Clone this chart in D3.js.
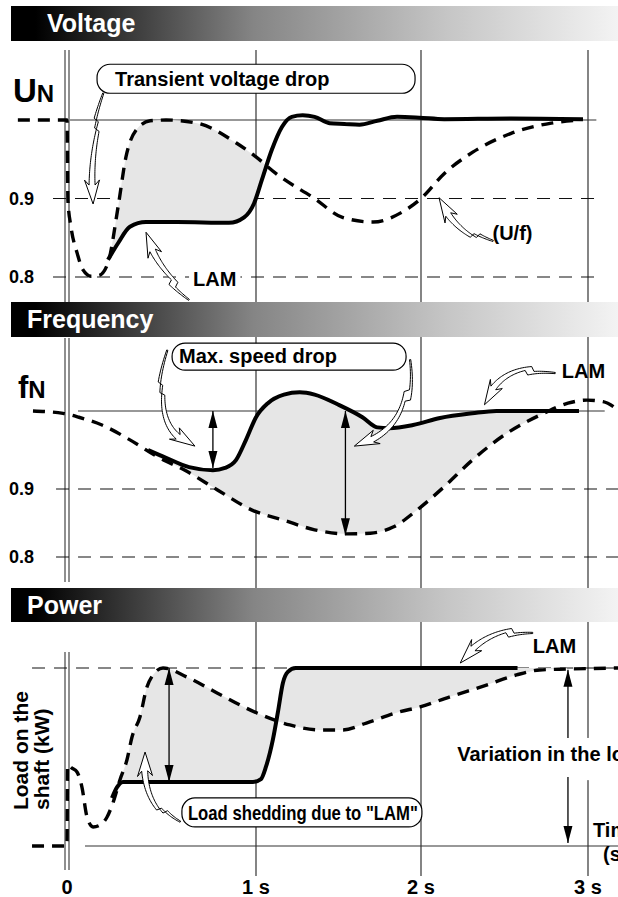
<!DOCTYPE html>
<html>
<head>
<meta charset="utf-8">
<script src="https://cdn.jsdelivr.net/npm/d3@7"></script>
<style>
  body { margin: 0; background: #fff; }
  svg { display: block; font-family: "Liberation Sans", Arial, sans-serif; font-weight: bold; }
</style>
</head>
<body>
<svg id="chart" width="618" height="897"></svg>
<script>
// ---- data ----
const timeTicks = [0, 1, 2, 3];
const timeLabels = ["0", "1 s", "2 s", "3 s"];

// Voltage (p.u.) - dashed: U/f regulation, solid: LAM
const voltUfT = [-0.26, 0, 0.005, 0.021, 0.053, 0.085, 0.127, 0.169, 0.217, 0.27, 0.312, 0.365, 0.44, 0.524, 0.688, 0.894, 1.0, 1.12, 1.355, 1.524, 1.71, 1.88, 2.0, 2.14, 2.31, 2.54, 2.78, 2.95];
const voltUfV = [1.0, 1.0, 0.897, 0.864, 0.831, 0.809, 0.801, 0.802, 0.818, 0.889, 0.953, 0.987, 0.999, 1.0, 0.996, 0.971, 0.953, 0.932, 0.90, 0.876, 0.870, 0.882, 0.90, 0.932, 0.959, 0.983, 0.996, 1.0];
const voltLamT = [0.217, 0.27, 0.333, 0.418, 0.582, 0.857, 0.937, 0.99, 1.036, 1.096, 1.157, 1.217, 1.283, 1.355, 1.446, 1.536, 1.627, 1.735, 1.855, 1.988, 2.139, 2.542, 2.97];
const voltLamV = [0.822, 0.843, 0.864, 0.870, 0.870, 0.869, 0.876, 0.894, 0.924, 0.962, 0.991, 1.004, 1.006, 1.004, 0.996, 0.995, 0.994, 0.999, 1.004, 1.003, 1.001, 1.002, 1.001];
const voltTicks = [0.9, 0.8];

// Frequency (p.u.)
const freqUfT = [-0.18, -0.021, 0.063, 0.185, 0.333, 0.481, 0.624, 0.794, 0.979, 1.169, 1.355, 1.548, 1.693, 1.831, 1.976, 2.139, 2.307, 2.518, 2.735, 2.88, 2.994, 3.09, 3.181];
const freqUfV = [1.0, 0.997, 0.992, 0.982, 0.963, 0.941, 0.924, 0.899, 0.869, 0.854, 0.840, 0.834, 0.835, 0.844, 0.869, 0.903, 0.937, 0.972, 0.997, 1.010, 1.014, 1.012, 1.001];
const freqLamT = [0.429, 0.524, 0.646, 0.772, 0.836, 0.894, 0.947, 1.0, 1.072, 1.169, 1.265, 1.355, 1.5, 1.645, 1.735, 1.807, 1.952, 2.114, 2.307, 2.452, 2.946];
const freqLamV = [0.950, 0.940, 0.928, 0.924, 0.927, 0.937, 0.963, 0.992, 1.010, 1.021, 1.024, 1.021, 1.008, 0.992, 0.979, 0.978, 0.982, 0.991, 0.997, 1.0, 1.0];
const freqTicks = [0.9, 0.8];

// Load on the shaft (share of final load)
const powUfT = [-0.185, 0, 0.003, 0.026, 0.053, 0.079, 0.106, 0.138, 0.175, 0.212, 0.243, 0.28, 0.317, 0.344, 0.386, 0.423, 0.455, 0.508, 0.635, 0.794, 1.006, 1.205, 1.386, 1.524, 1.669, 1.867, 1.994, 2.169, 2.392, 2.572, 2.711, 2.873, 3.181];
const powUfP = [0, 0, 0.455, 0.438, 0.416, 0.331, 0.163, 0.107, 0.118, 0.163, 0.242, 0.371, 0.483, 0.612, 0.725, 0.893, 0.961, 1.0, 0.949, 0.860, 0.747, 0.680, 0.652, 0.652, 0.691, 0.753, 0.781, 0.837, 0.904, 0.961, 0.989, 0.994, 1.0];
const powLamT = [0.238, 0.265, 0.296, 0.36, 0.984, 1.03, 1.06, 1.102, 1.133, 1.163, 1.193, 1.241, 2.578, 2.873];
const powLamP = [0.27, 0.331, 0.36, 0.36, 0.36, 0.376, 0.444, 0.596, 0.753, 0.916, 0.978, 1.0, 1.0, 1.0];
const powLamDrawnUntil = 2.578;

const zip = (ts, vs) => ts.map((t, i) => ({t: t, v: vs[i]}));
const voltUf = zip(voltUfT, voltUfV), voltLam = zip(voltLamT, voltLamV);
const freqUf = zip(freqUfT, freqUfV), freqLam = zip(freqLamT, freqLamV);
const powUf = zip(powUfT, powUfP), powLam = zip(powLamT, powLamP);

// ---- scales ----
const svg = d3.select("#chart");
const defs = svg.append("defs");

const x = d3.scaleLinear().domain(timeTicks).range([67, 256, 421, 588]);
const yV = d3.scaleLinear().domain([0.8, 1.0]).range([277, 120]);
const yF = d3.scaleLinear().domain([0.8, 0.9, 1.0]).range([557, 489, 411]);
const yP = d3.scaleLinear().domain([0, 1]).range([846, 668]);

const curve = d3.curveMonotoneX;
const lineOf = y => d3.line().x(d => x(d.t)).y(d => y(d.v)).curve(curve);

const grad = defs.append("linearGradient").attr("id", "band");
grad.append("stop").attr("offset", "0%").attr("stop-color", "#000");
grad.append("stop").attr("offset", "4%").attr("stop-color", "#000");
grad.append("stop").attr("offset", "40%").attr("stop-color", "#858585");
grad.append("stop").attr("offset", "72%").attr("stop-color", "#c6c6c6");
grad.append("stop").attr("offset", "100%").attr("stop-color", "#f3f3f3");

const gridColor = "#333";

// vertical grid lines (1 s, 2 s, 3 s)
svg.append("g").selectAll("line").data(timeTicks.slice(1)).join("line")
    .attr("x1", d => x(d)).attr("x2", d => x(d))
    .attr("y1", 50).attr("y2", 876)
    .attr("stroke", gridColor).attr("stroke-width", 1.2);

// double line at t = 0, one per panel
[[50, 302], [338, 582], [652, 870]].forEach(([a, b]) => {
    [-2, 2].forEach(o => svg.append("line")
        .attr("x1", x(0) + o).attr("x2", x(0) + o).attr("y1", a).attr("y2", b)
        .attr("stroke", gridColor).attr("stroke-width", 1.1));
});

// header bands
const bands = [
    {title: "Voltage", y: 6, h: 35, tx: 47},
    {title: "Frequency", y: 302, h: 35, tx: 27},
    {title: "Power", y: 588, h: 34, tx: 27}
];
bands.forEach(b => {
    svg.append("rect").attr("x", 11).attr("y", b.y).attr("width", 607).attr("height", b.h)
        .attr("fill", "url(#band)");
    svg.append("text").attr("x", b.tx).attr("y", b.y + 26).attr("fill", "#fff")
        .attr("font-size", 25).text(b.title);
});

// horizontal reference lines
function hline(y, v, t0, t1, dashed) {
    svg.append("line").attr("x1", x(t0)).attr("x2", x(t1)).attr("y1", y(v)).attr("y2", y(v))
        .attr("stroke", dashed ? "#111" : gridColor).attr("stroke-width", 1.1)
        .attr("stroke-dasharray", dashed ? "13,9" : null);
}
hline(yV, 1.0, 0.016, 3.05, false);
voltTicks.forEach(v => hline(yV, v, -0.074, 3.07, true));
hline(yF, 1.0, 0.058, 3.1, false);
freqTicks.forEach(v => hline(yF, v, -0.058, 3.19, true));
hline(yP, 1.0, -0.185, 3.19, true);
hline(yP, 0, 0.095, 3.19, false);

// shaded gap between two curves (upper above lower)
let clipN = 0;
function shade(upper, lower, y, top, bottom) {
    const id = "clip" + (clipN++);
    defs.append("clipPath").attr("id", id).append("path")
        .attr("d", d3.area().x(d => x(d.t)).y0(top).y1(d => y(d.v)).curve(curve)(lower));
    svg.append("path")
        .attr("d", d3.area().x(d => x(d.t)).y0(d => y(d.v)).y1(bottom).curve(curve)(upper))
        .attr("fill", "#e6e6e6").attr("clip-path", `url(#${id})`);
}
shade(voltUf, voltLam, yV, 45, 300);
shade(freqLam, freqUf, yF, 338, 586);
shade(powUf, powLam, yP, 625, 846);
shade(powLam, powUf, yP, 625, 846);

// curves
function dashedCurve(data, y) {
    svg.append("path").datum(data).attr("d", lineOf(y))
        .attr("fill", "none").attr("stroke", "#000").attr("stroke-width", 3.4)
        .attr("stroke-dasharray", "12,8");
}
function solidCurve(data, y) {
    svg.append("path").datum(data).attr("d", lineOf(y))
        .attr("fill", "none").attr("stroke", "#000").attr("stroke-width", 4)
        .attr("stroke-linejoin", "round");
}
dashedCurve(voltUf, yV);
solidCurve(voltLam, yV);
dashedCurve(freqUf, yF);
solidCurve(freqLam, yF);
dashedCurve(powUf, yP);
solidCurve(powLam.filter(d => d.t <= powLamDrawnUntil), yP);

// straight arrows
function head(px, py, dir) {
    const L = 17, w = 4.5;
    svg.append("path")
        .attr("d", `M${px},${py}L${px - w},${py - dir * L}L${px + w},${py - dir * L}Z`)
        .attr("fill", "#000");
}
function arrow(t, y, vFrom, vTo, both) {
    const X = x(t), a = y(vFrom), b = y(vTo);
    svg.append("line").attr("x1", X).attr("x2", X).attr("y1", a).attr("y2", b)
        .attr("stroke", "#000").attr("stroke-width", 1.3);
    head(X, b, b > a ? 1 : -1);
    if (both) head(X, a, a > b ? 1 : -1);
}
arrow(0.772, yF, 1.0, 0.927, true);
arrow(1.542, yF, 1.0, 0.832, true);
arrow(0.54, yP, 1.0, 0.36, true);

// hollow curved call-out arrows with a zig-zag and a barbed head
function callout(y, tail, ctrl, tip, kink) {
    const p0 = [x(tail[0]), y(tail[1])], c = [x(ctrl[0]), y(ctrl[1])], p1 = [x(tip[0]), y(tip[1])];
    const B = s => [0, 1].map(k => (1 - s) * (1 - s) * p0[k] + 2 * (1 - s) * s * c[k] + s * s * p1[k]);
    const D = s => [0, 1].map(k => 2 * (1 - s) * (c[k] - p0[k]) + 2 * s * (p1[k] - c[k]));
    const headLen = 19;
    let sh = 1;
    while (sh > 0.2 && Math.hypot(B(sh)[0] - p1[0], B(sh)[1] - p1[1]) < headLen) sh -= 0.005;
    const N = 40, Lp = [], Rp = [];
    let nEnd = null, pEnd = null, dEnd = null;
    for (let i = 0; i <= N; i++) {
        const s = sh * i / N, p = B(s), d = D(s), len = Math.hypot(d[0], d[1]);
        const n = [-d[1] / len, d[0] / len];
        const w = 0.6 + 2.4 * (i / N);
        const oL = i / N < 0.3 ? kink : 0, oR = i / N < 0.38 ? kink : 0;
        Lp.push([p[0] + n[0] * (w + oL), p[1] + n[1] * (w + oL)]);
        Rp.push([p[0] - n[0] * (w - oR), p[1] - n[1] * (w - oR)]);
        nEnd = n; pEnd = p; dEnd = [d[0] / len, d[1] / len];
    }
    const hw = 7.5, back = 5;
    const barbL = [pEnd[0] + nEnd[0] * hw - dEnd[0] * back, pEnd[1] + nEnd[1] * hw - dEnd[1] * back];
    const barbR = [pEnd[0] - nEnd[0] * hw - dEnd[0] * back, pEnd[1] - nEnd[1] * hw - dEnd[1] * back];
    const pts = Lp.concat([barbL, p1, barbR], Rp.reverse());
    svg.append("path").attr("d", "M" + pts.map(p => p.join(",")).join("L") + "Z")
        .attr("fill", "#fff").attr("stroke", "#000").attr("stroke-width", 1)
        .attr("stroke-linejoin", "round");
}
callout(yV, [0.217, 1.032], [0.111, 0.962], [0.138, 0.893], 5);
callout(yV, [0.661, 0.776], [0.466, 0.811], [0.418, 0.857], -5);
callout(yV, [2.422, 0.840], [2.193, 0.857], [2.108, 0.901], 5);
callout(yF, [0.556, 1.076], [0.42, 0.976], [0.677, 0.955], 5);
callout(yF, [1.904, 1.065], [1.96, 0.976], [1.596, 0.955], -5);
callout(yF, [2.807, 1.055], [2.47, 1.063], [2.38, 1.008], -5);
callout(yP, [2.669, 1.225], [2.38, 1.225], [2.235, 1.028], -5);
callout(yP, [0.587, 0.112], [0.386, 0.23], [0.413, 0.528], 5);

// boxed labels
function box(y, t, v, w, h, label, dx, dy, fit) {
    const X = x(t), Y = y(v);
    svg.append("rect").attr("x", X).attr("y", Y).attr("width", w).attr("height", h)
        .attr("rx", 13).attr("fill", "#fff").attr("stroke", "#000").attr("stroke-width", 1.2);
    const tx = svg.append("text").attr("x", X + dx).attr("y", Y + dy).attr("font-size", 20).text(label);
    if (fit) tx.attr("font-size", 21).attr("textLength", fit).attr("lengthAdjust", "spacingAndGlyphs");
}
box(yV, 0.159, 1.071, 318, 29, "Transient voltage drop", 18, 22);
box(yF, 0.556, 1.087, 234, 27, "Max. speed drop", 7, 20);
box(yP, 0.608, 0.27, 240, 29, "Load shedding due to \"LAM\"", 6, 22, 230);

// plain labels
function label(y, t, v, s, size, bg) {
    const el = svg.append("text").attr("x", x(t)).attr("y", y(v)).attr("font-size", size).text(s);
    if (bg) {
        const bb = el.node().getBBox();
        svg.insert("rect", () => el.node()).attr("x", bb.x - 4).attr("y", bb.y).attr("width", bb.width + 8)
            .attr("height", bb.height).attr("fill", "#fff");
    }
    return el;
}
label(yV, 0.667, 0.789, "LAM", 20, true);
label(yF, 2.843, 1.042, "LAM", 20);
label(yP, 2.669, 1.084, "LAM", 20);
label(yV, 2.428, 0.847, "(U/f)", 20);

// variation in the load
svg.append("rect").attr("x", x(2.2)).attr("y", yP(0.607)).attr("width", 618 - x(2.2))
    .attr("height", yP(0.37) - yP(0.607)).attr("fill", "#fff");
label(yP, 2.217, 0.478, "Variation in the load", 20);
arrow(2.88, yP, 0.607, 0.99, false);
arrow(2.88, yP, 0.388, 0.017, false);
label(yP, 3.03, 0.051, "Time", 20);
label(yP, 3.09, -0.084, "(s)", 20);

// y labels
voltTicks.forEach(v => svg.append("text").attr("x", 9).attr("y", yV(v) + 6).attr("font-size", 18).text(v));
freqTicks.forEach(v => svg.append("text").attr("x", 9).attr("y", yF(v) + 6).attr("font-size", 18).text(v));
const un = svg.append("text").attr("x", 13).attr("y", yV(1.0) - 18);
un.append("tspan").attr("font-size", 33).text("U");
un.append("tspan").attr("font-size", 24).text("N");
const fn = svg.append("text").attr("x", 18).attr("y", yF(1.0) - 13);
fn.append("tspan").attr("font-size", 31).text("f");
fn.append("tspan").attr("font-size", 24).text("N");

const yl = svg.append("g").attr("transform", `translate(0,${yP(0.202)}) rotate(-90)`);
yl.append("text").attr("x", 0).attr("y", 28).attr("font-size", 21).text("Load on the");
yl.append("text").attr("x", 0).attr("y", 49).attr("font-size", 21).text("shaft (kW)");

// time tick labels
svg.append("g").selectAll("text").data(timeTicks).join("text")
    .attr("x", d => x(d)).attr("y", 894).attr("text-anchor", "middle").attr("font-size", 20)
    .text((d, i) => timeLabels[i]);
</script>
</body>
</html>
